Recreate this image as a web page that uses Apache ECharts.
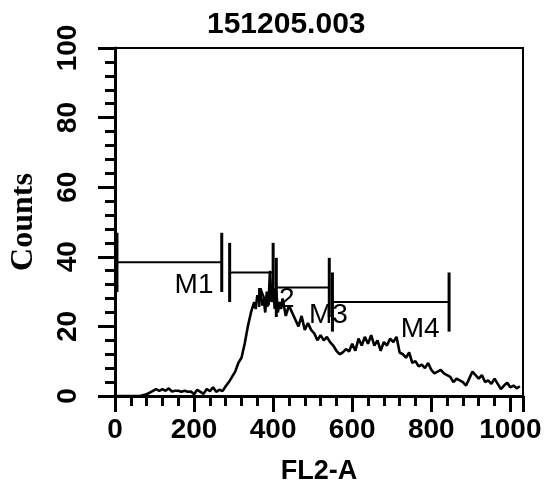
<!DOCTYPE html>
<html>
<head>
<meta charset="utf-8">
<script src="https://cdn.jsdelivr.net/npm/echarts@6/dist/echarts.min.js"></script>
<style>
html,body{margin:0;padding:0;background:#fff;}
#chart{width:548px;height:490px;}
</style>
</head>
<body>
<div id="chart"></div>
<script>
// FL2-A channel and counts
var channels = [0,8,16,24,32,40,48,56,64,72,80,88,96,104,112,120,128,136,144,152,160,168,176,184,192,200,208,216,224,232,240,248,256,264,272,280,288,296,304,312,320,328,336,344,352,356,360,364,368,372,376,380,384,388,392,396,400,404,408,412,416,420,424,432,440,448,456,464,472,480,488,496,504,512,520,528,536,544,552,560,568,576,584,592,600,608,616,624,632,640,648,656,664,672,680,688,696,704,712,720,728,736,744,752,760,768,776,784,792,800,808,816,824,832,840,848,856,864,872,880,888,896,904,912,920,928,936,944,952,960,968,976,984,992,1000,1008,1016,1024];
var counts   = [0,0,0,0,0,0,0,0,0,0.3,0.5,1,1.5,2,1.5,2,1.5,2.2,1.3,1.5,1.5,1.2,1.5,1.2,1.3,0.5,1.8,1.2,0.6,2,1.4,2.5,1.2,1.8,1.4,2.8,4,5.5,7,9.5,11,15,20,24,27,25,29,27,31,26,28,24,30,26,36,27,31,25,30,24,27,25,28,23,26,24,22,20,23,19,21,19,18,16,17.5,16,17,15.5,14.5,13,12,12.5,13.5,12.8,15,13,16.5,14.5,17,15,17.5,14.5,16,13,15.5,14.5,16.5,15.5,17,12.5,12,11,12.5,9.5,10,8.5,9,8,9.5,7.5,6.5,7,7.5,6.5,6,5.5,4,5,4.5,4,3,5,7,6,5,6,4,4.5,3.5,5,3.5,2,3,3.8,2.5,3,2.2,2.8];

// Gate markers
var markerNames  = ['M1','M2','M3','M4'];
var markerStart  = [5, 290, 408, 550];
var markerEnd    = [270, 400, 542, 845];
var markerLevel  = [38.4, 35.5, 31.2, 27];
var markerLabelX = [200, 405, 540, 772];
var markerLabelY = [31.8, 27.8, 23.3, 19.3];

var xTicks = [0,200,400,600,800,1000];
var yTicks = [0,20,40,60,80,100];

var histData = channels.map(function(c,i){ return [c, counts[i]]; });
var markerData = markerNames.map(function(n,i){
  return [markerStart[i], markerEnd[i], markerLevel[i], markerLabelX[i], markerLabelY[i], n];
});

var chart = echarts.init(document.getElementById('chart'), null, {renderer:'canvas'});
var BAR_HALF = 8.5;
chart.setOption({
  animation:false,
  backgroundColor:'#fff',
  title:{
    text:'151205.003', left:202, top:5,
    textStyle:{fontFamily:'Liberation Sans', fontWeight:'bold', fontSize:30, color:'#000'}
  },
  grid:{left:110, right:25, top:48, bottom:89, show:true, borderColor:'#000', borderWidth:2, backgroundColor:'transparent'},
  xAxis:{
    type:'value', min:0, max:1032, interval:200,
    name:'FL2-A', nameLocation:'middle', nameGap:62,
    nameTextStyle:{fontFamily:'Liberation Sans', fontWeight:'bold', fontSize:27, color:'#000'},
    axisLine:{show:true, onZero:false, lineStyle:{color:'#000', width:3}},
    axisTick:{show:true, inside:false, length:16, lineStyle:{color:'#000', width:3}},
    minorTick:{show:true, splitNumber:5, length:10, lineStyle:{color:'#000', width:3}},
    splitLine:{show:false},
    axisLabel:{margin:20, fontFamily:'Liberation Sans', fontWeight:'bold', fontSize:28, color:'#000',
      formatter:function(v){ return xTicks.indexOf(v) >= 0 ? String(v) : ''; }}
  },
  yAxis:{
    type:'value', min:0, max:100, interval:20,
    name:'Counts', nameLocation:'middle', nameGap:75, nameRotate:90,
    nameTextStyle:{fontFamily:'Liberation Serif', fontWeight:'bold', fontSize:32, color:'#000'},
    axisLine:{show:true, onZero:false, lineStyle:{color:'#000', width:3}},
    axisTick:{show:true, inside:false, length:17, lineStyle:{color:'#000', width:3}},
    minorTick:{show:true, splitNumber:5, length:10, lineStyle:{color:'#000', width:3}},
    splitLine:{show:false},
    axisLabel:{rotate:90, margin:33, fontFamily:'Liberation Sans', fontWeight:'bold', fontSize:28, color:'#000',
      formatter:function(v){ return yTicks.indexOf(v) >= 0 ? String(v) : ''; }}
  },
  series:[
    {
      type:'line', data:histData, showSymbol:false, symbol:'none',
      lineStyle:{color:'#000', width:2.6}, z:3
    },
    {
      type:'custom', data:markerData, encode:{x:[0,1], y:2}, z:4,
      renderItem:function(params, api){
        var x1 = api.value(0), x2 = api.value(1), y = api.value(2);
        var lx = api.value(3), ly = api.value(4);
        var name = markerNames[params.dataIndex];
        var a = api.coord([x1, y]), b = api.coord([x2, y]);
        var a1 = api.coord([x1, y + BAR_HALF]), a2 = api.coord([x1, y - BAR_HALF]);
        var b1 = api.coord([x2, y + BAR_HALF]), b2 = api.coord([x2, y - BAR_HALF]);
        var lp = api.coord([lx, ly]);
        var st = {stroke:'#000', lineWidth:2};
        var stBar = {stroke:'#000', lineWidth:3};
        return {type:'group', children:[
          {type:'line', shape:{x1:a[0], y1:a[1], x2:b[0], y2:b[1]}, style:st},
          {type:'line', shape:{x1:a1[0], y1:a1[1], x2:a2[0], y2:a2[1]}, style:stBar},
          {type:'line', shape:{x1:b1[0], y1:b1[1], x2:b2[0], y2:b2[1]}, style:stBar},
          {type:'text', x:lp[0], y:lp[1], style:{text:name, x:0, y:0, align:'center', verticalAlign:'middle',
            fontFamily:'Liberation Sans', fontSize:28, fill:'#000'}}
        ]};
      }
    }
  ]
});
</script>
</body>
</html>
